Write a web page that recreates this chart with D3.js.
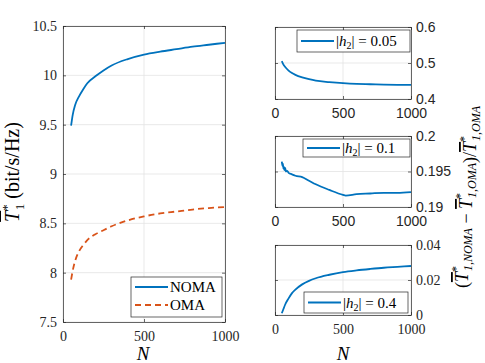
<!DOCTYPE html>
<html>
<head>
<meta charset="utf-8">
<script src="https://cdn.jsdelivr.net/npm/d3@7"></script>
<style>
  body { margin: 0; background: #fff; }
  svg { display: block; }
</style>
</head>
<body>
<div id="chart"></div>
<script>
// values
const N =      [50, 60, 75, 100, 125, 150, 200, 250, 300, 400, 500, 600, 700, 800, 900, 1000];
const noma =   [9.49, 9.60, 9.70, 9.79, 9.86, 9.92, 9.99, 10.05, 10.10, 10.165, 10.21, 10.24, 10.265, 10.29, 10.31, 10.33];
const oma =    [7.93, 8.02, 8.12, 8.22, 8.28, 8.33, 8.39, 8.43, 8.47, 8.53, 8.57, 8.60, 8.62, 8.64, 8.655, 8.665];
const rel005 = [0.505, 0.497, 0.489, 0.479, 0.472, 0.467, 0.460, 0.455, 0.451, 0.447, 0.444, 0.442, 0.441, 0.440, 0.4395, 0.439];
const rel04 =  [0.001, 0.003, 0.006, 0.0095, 0.0125, 0.0145, 0.0175, 0.0195, 0.021, 0.023, 0.0245, 0.0255, 0.0263, 0.027, 0.0275, 0.028];
// |h2| = 0.1 is a bit jagged at the start
const N01 =    [50, 55, 58, 62, 65, 70, 75, 80, 90, 100, 125, 150, 200, 250, 300, 400, 500, 520, 600, 700, 800, 900, 1000];
const rel01 =  [0.1964, 0.1958, 0.1961, 0.1954, 0.1957, 0.1952, 0.1955, 0.1950, 0.1951, 0.1948, 0.1946, 0.1944, 0.1942, 0.1937, 0.1932, 0.1924, 0.1917, 0.1916, 0.1918, 0.1919, 0.1920, 0.1920, 0.1921];

const xTicks = [0, 500, 1000];
const leftYTicks = [7.5, 8, 8.5, 9, 9.5, 10, 10.5];

const blue = "#0072BD", orange = "#D95319";
const axisCol = "#262626", gridCol = "#e3e3e3";
const SERIF = "'Liberation Serif', 'Times New Roman', 'DejaVu Serif', serif";
const SANS = "'Liberation Sans', Arial, sans-serif";

const svg = d3.select("#chart").append("svg")
    .attr("width", 485).attr("height", 363);

function drawFrame(x, y, yTicks, yFmt, font, yRight, labelPad) {
    const [x0, x1] = x.range();
    const [y0, y1] = y.range();
    const g = svg.append("g");

    // grid
    g.selectAll(".gx").data(xTicks).enter().append("line")
        .attr("x1", d => x(d)).attr("x2", d => x(d))
        .attr("y1", y0).attr("y2", y1)
        .attr("stroke", gridCol).attr("stroke-width", 0.8);
    g.selectAll(".gy").data(yTicks).enter().append("line")
        .attr("x1", x0).attr("x2", x1)
        .attr("y1", d => y(d)).attr("y2", d => y(d))
        .attr("stroke", gridCol).attr("stroke-width", 0.8);

    const bottom = g.append("g").attr("transform", `translate(0,${y0})`)
        .call(d3.axisBottom(x).tickValues(xTicks).tickFormat(d => String(d))
            .tickSizeInner(-3).tickSizeOuter(0).tickPadding(labelPad));
    const top = g.append("g").attr("transform", `translate(0,${y1})`)
        .call(d3.axisTop(x).tickValues(xTicks).tickSizeInner(-3).tickSizeOuter(0).tickFormat(""));
    let lab, other;
    if (yRight) {
        lab = g.append("g").attr("transform", `translate(${x1},0)`)
            .call(d3.axisRight(y).tickValues(yTicks).tickFormat(yFmt).tickSizeInner(-3).tickSizeOuter(0).tickPadding(5));
        other = g.append("g").attr("transform", `translate(${x0},0)`)
            .call(d3.axisLeft(y).tickValues(yTicks).tickSizeInner(-3).tickSizeOuter(0).tickFormat(""));
    } else {
        lab = g.append("g").attr("transform", `translate(${x0},0)`)
            .call(d3.axisLeft(y).tickValues(yTicks).tickFormat(yFmt).tickSizeInner(-3).tickSizeOuter(0).tickPadding(6));
        other = g.append("g").attr("transform", `translate(${x1},0)`)
            .call(d3.axisRight(y).tickValues(yTicks).tickSizeInner(-3).tickSizeOuter(0).tickFormat(""));
    }
    [bottom, top, lab, other].forEach(a => {
        a.attr("font-family", font).attr("font-size", 14);
        a.select(".domain").attr("stroke", axisCol).attr("stroke-width", 0.7);
        a.selectAll(".tick line").attr("stroke", axisCol).attr("stroke-width", 0.7);
        a.selectAll("text").attr("fill", "#262626");
    });
    return g;
}

function drawLine(xs, ys, x, y, color, dash) {
    svg.append("path")
        .datum(xs.map((d, i) => [d, ys[i]]))
        .attr("d", d3.line().curve(d3.curveMonotoneX).x(d => x(d[0])).y(d => y(d[1])))
        .attr("fill", "none").attr("stroke", color).attr("stroke-width", 1.8)
        .attr("stroke-dasharray", dash || null);
}

// ---------- left plot ----------
const xL = d3.scaleLinear().domain([0, 1000]).range([63, 225]);
const yL = d3.scaleLinear().domain([7.5, 10.5]).range([322, 26]);
drawFrame(xL, yL, leftYTicks, d3.format("~g"), SERIF, false, 9);
drawLine(N, noma, xL, yL, blue);
drawLine(N, oma, xL, yL, orange, "6,4");

// legend
const lg = svg.append("g").attr("font-family", SERIF);
lg.append("rect").attr("x", 131).attr("y", 277).attr("width", 91).attr("height", 40)
    .attr("fill", "#fff").attr("stroke", axisCol).attr("stroke-width", 0.7);
[["NOMA", blue, null, 287], ["OMA", orange, "6,4", 305]].forEach(([name, c, dash, yy]) => {
    lg.append("line").attr("x1", 135).attr("x2", 168).attr("y1", yy).attr("y2", yy)
        .attr("stroke", c).attr("stroke-width", 1.8).attr("stroke-dasharray", dash);
    lg.append("text").attr("x", 170).attr("y", yy + 5).attr("font-size", 15).text(name);
});

// labels
[143, 343].forEach(cx => {
    svg.append("text").attr("font-family", SERIF).attr("x", cx).attr("y", 360)
        .attr("text-anchor", "middle").attr("font-size", 19).attr("font-style", "italic").text("N");
});

const yl = svg.append("text").attr("font-family", SERIF)
    .attr("transform", "translate(19,172) rotate(-90)")
    .attr("text-anchor", "middle").attr("font-size", 20);
yl.append("tspan").attr("font-style", "italic").style("text-decoration", "overline").text("T");
yl.append("tspan").attr("font-size", 13).attr("dy", -8).text("*");
yl.append("tspan").attr("font-size", 13).attr("dx", -6).attr("dy", 13).text("1");
yl.append("tspan").attr("dy", -5).text(" (bit/s/Hz)");

// ---------- right panels ----------
const xR = d3.scaleLinear().domain([0, 1000]).range([275, 411]);
const panels = [
    { vals: rel005, xs: N, dom: [0.4, 0.6], rng: [99, 27], ticks: [0.4, 0.5, 0.6], font: SANS, leg: "0.05", box: [297, 30, 113, 22] },
    { vals: rel01, xs: N01, dom: [0.19, 0.2], rng: [207, 136], ticks: [0.19, 0.195, 0.2], font: SANS, leg: "0.1", box: [303, 139, 107, 18] },
    { vals: rel04, xs: N, dom: [0, 0.04], rng: [315, 245], ticks: [0, 0.02, 0.04], font: SERIF, leg: "0.4", box: [304, 292, 104, 21] }
];
panels.forEach(p => {
    const y = d3.scaleLinear().domain(p.dom).range(p.rng);
    drawFrame(xR, y, p.ticks, d3.format("~g"), p.font, true, 9);
    drawLine(p.xs, p.vals, xR, y, blue);
    const [bx, by, bw, bh] = p.box;
    const g = svg.append("g").attr("font-family", SERIF);
    g.append("rect").attr("x", bx).attr("y", by).attr("width", bw).attr("height", bh)
        .attr("fill", "#fff").attr("stroke", axisCol).attr("stroke-width", 0.7);
    const ly = by + bh / 2;
    g.append("line").attr("x1", bx + 4).attr("x2", bx + 37).attr("y1", ly).attr("y2", ly)
        .attr("stroke", blue).attr("stroke-width", 1.8);
    const t = g.append("text").attr("x", bx + 39).attr("y", ly + 5).attr("font-size", 15);
    t.append("tspan").text("|");
    t.append("tspan").attr("font-style", "italic").text("h");
    t.append("tspan").attr("font-size", 10).attr("dy", 3).text("2");
    t.append("tspan").attr("dy", -3).text("| = " + p.leg);
});

// right y label
const rlG = svg.append("g");
const rl = rlG.append("text").attr("font-family", SERIF)
    .attr("text-anchor", "middle").attr("font-size", 18);
function tbar(sub) {
    rl.append("tspan").attr("font-style", "italic").style("text-decoration", "overline").text("T");
    rl.append("tspan").attr("font-size", 12).attr("dy", -8).text("*");
    rl.append("tspan").attr("font-size", 12).attr("font-style", "italic").attr("dx", -5).attr("dy", 12).text(sub);
    rl.append("tspan").attr("dy", -4).text("");
}
rl.append("tspan").text("(");
tbar("1,NOMA");
rl.append("tspan").text(" \u2212 ");
tbar("1,OMA");
rl.append("tspan").text(")/");
tbar("1,OMA");
const rlLen = rl.node().getComputedTextLength();
const rlScale = Math.min(1, 266 / rlLen);
rlG.attr("transform", `translate(468,197) rotate(-90) scale(${rlScale})`);
</script>
</body>
</html>
